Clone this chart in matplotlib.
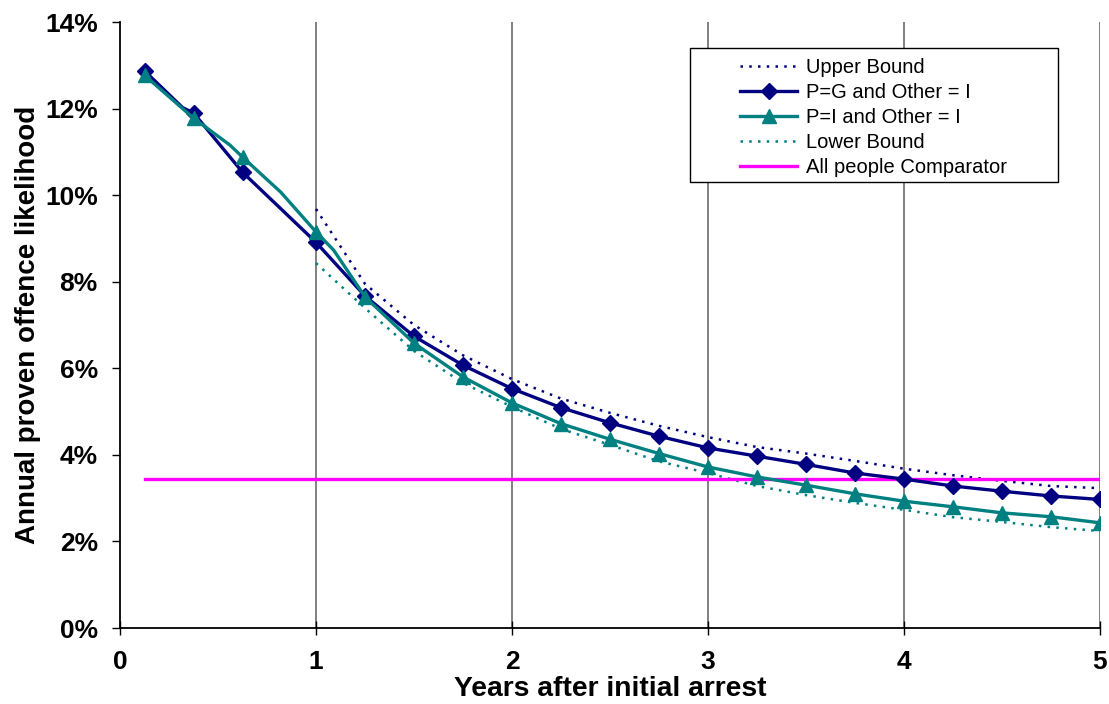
import matplotlib
matplotlib.use("Agg")
import matplotlib.pyplot as plt
from matplotlib.ticker import FuncFormatter
from matplotlib.legend_handler import HandlerLine2D
from matplotlib.patches import Rectangle

plt.rcParams['font.family'] = ['Liberation Sans', 'DejaVu Sans']

# years after arrest / likelihood in %
pg_x = [0.125, 0.32, 0.375, 0.625, 1.0, 1.25, 1.5, 1.75, 2.0, 2.25, 2.5, 2.75,
        3.0, 3.25, 3.5, 3.75, 4.0, 4.25, 4.5, 4.75, 5.0]
pg_y = [12.87, 12.02, 11.90, 10.53, 8.91, 7.67, 6.74, 6.07, 5.53, 5.09, 4.74, 4.43,
        4.16, 3.97, 3.78, 3.58, 3.44, 3.28, 3.16, 3.05, 2.97]

pi_x = [0.125, 0.375, 0.56, 0.625, 0.82, 1.0, 1.09, 1.25, 1.5, 1.75, 2.0, 2.25, 2.5,
        2.75, 3.0, 3.25, 3.5, 3.75, 4.0, 4.25, 4.5, 4.75, 5.0]
pi_y = [12.77, 11.78, 11.16, 10.88, 10.07, 9.15, 8.73, 7.65, 6.58, 5.80, 5.20, 4.72,
        4.36, 4.03, 3.72, 3.49, 3.30, 3.10, 2.93, 2.80, 2.66, 2.57, 2.43]

bound_x = [1.0, 1.25, 1.5, 1.75, 2.0, 2.25, 2.5, 2.75, 3.0, 3.25, 3.5, 3.75, 4.0,
           4.25, 4.5, 4.75, 5.0]
upper_y = [9.68, 7.95, 7.00, 6.30, 5.75, 5.30, 4.97, 4.67, 4.41, 4.18, 4.03, 3.86,
           3.68, 3.53, 3.40, 3.28, 3.23]
lower_y = [8.43, 7.39, 6.40, 5.66, 5.11, 4.60, 4.23, 3.85, 3.58, 3.28, 3.07, 2.89,
           2.73, 2.56, 2.45, 2.33, 2.24]

comp_x = [0.125, 5.0]
comp_y = [3.44, 3.44]


def marked(xs):
    # markers only on the 1/8-year grid points
    return [i for i, x in enumerate(xs) if abs(x * 8 - round(x * 8)) < 1e-9]


class RightLine(HandlerLine2D):
    # legend sample drawn only in the right part of the handle box
    def create_artists(self, legend, orig_handle, xdescent, ydescent, width, height,
                       fontsize, trans):
        off = width * 0.44
        return super().create_artists(legend, orig_handle, xdescent - off, ydescent,
                                      width - off, height, fontsize, trans)


fig = plt.figure(figsize=(11.09, 7.04), dpi=100)
ax = fig.add_axes([120 / 1109, 76 / 704, 980 / 1109, 606 / 704])

navy = '#000080'
teal = '#008080'

ax.plot(bound_x, upper_y, color=navy, lw=1.8, ls=(0, (1, 2.5)), label='Upper Bound', zorder=3)
ax.plot(pg_x, pg_y, color=navy, lw=2.4, marker='D', ms=8, markevery=marked(pg_x),
        label='P=G and Other = I', zorder=4)
ax.plot(pi_x, pi_y, color=teal, lw=2.4, marker='^', ms=10, markevery=marked(pi_x),
        label='P=I and Other = I', zorder=4)
ax.plot(bound_x, lower_y, color=teal, lw=1.8, ls=(0, (1, 2.5)), label='Lower Bound', zorder=3)
ax.plot(comp_x, comp_y, color='#FF00FF', lw=2.4, label='All people Comparator', zorder=3)

ax.set_xlim(0, 5)
ax.set_ylim(0, 14)
ax.set_xticks([0, 1, 2, 3, 4, 5])
ax.set_yticks(range(0, 15, 2))
ax.yaxis.set_major_formatter(FuncFormatter(lambda v, p: '%d%%' % v))

for xv in [1, 2, 3, 4, 5]:
    ax.axvline(xv, color='#808080', lw=1.4, zorder=1)

ax.spines['top'].set_visible(False)
ax.spines['right'].set_visible(False)
ax.spines['left'].set_linewidth(1.3)
ax.spines['bottom'].set_linewidth(1.3)
ax.tick_params(axis='x', direction='inout', length=10, width=1, pad=11)
ax.tick_params(axis='y', direction='out', length=6, width=1, pad=10)
for lab in ax.get_xticklabels() + ax.get_yticklabels():
    lab.set_fontsize(19)
    lab.set_fontweight('bold')

ax.set_xlabel('Years after initial arrest', fontsize=20.3, fontweight='bold', labelpad=1)
ax.set_ylabel('Annual proven offence likelihood', fontsize=20, fontweight='bold', labelpad=3)

# legend frame drawn separately, it is wider than the entries
ax.add_patch(Rectangle((570 / 980, 1 - 160 / 606), 368 / 980, 134 / 606,
                       transform=ax.transAxes, fill=True, facecolor='white',
                       edgecolor='black', lw=1.0, zorder=5))
leg = ax.legend(loc='upper left', bbox_to_anchor=(570 / 980, 1 - 30 / 606), fontsize=14.5,
                frameon=False, handlelength=5.0,
                handletextpad=0.45, labelspacing=0.3, borderpad=0.3, borderaxespad=0,
                numpoints=1, handler_map={plt.Line2D: RightLine()})
leg.set_zorder(6)

fig.savefig('out.png', dpi=100)
